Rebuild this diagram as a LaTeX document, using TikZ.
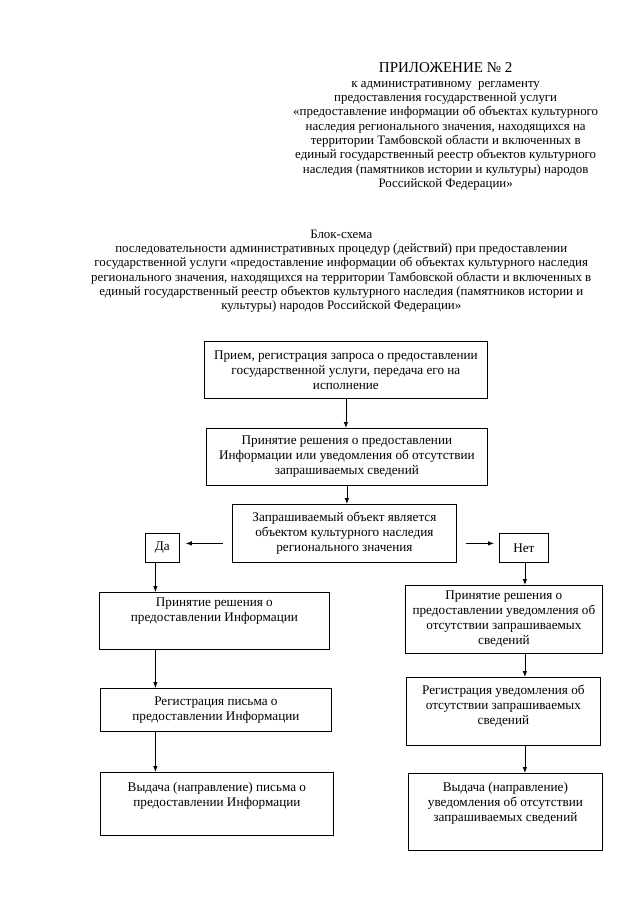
\documentclass[tikz,border=0pt]{standalone}
\usepackage{fontspec}
\setmainfont{Liberation Serif}
\usetikzlibrary{arrows.meta}
\newcommand\bxt[4]{\parbox[c][#2][#3]{#1}{\centering #4\par}}
\begin{document}
\begin{tikzpicture}[x=1pt,y=-1pt, font=\fontsize{12.9}{14.3}\selectfont]
\tikzset{
 box/.style={draw, line width=0.8pt, inner sep=0pt, anchor=north west, font=\fontsize{13.2}{15}\selectfont},
 arr/.style={line width=0.8pt, -{Latex[length=6pt,width=4.5pt]}},
 hdr/.style={align=center, inner sep=0pt}
}
\useasboundingbox (0,0) rectangle (640,905);
\fill[white] (0,0) rectangle (640,905);

\node[hdr, anchor=north west] (sub) at (293,77) {\strut к административному\ \ регламенту\\
предоставления государственной услуги\\
«предоставление информации об объектах культурного\\
наследия регионального значения, находящихся на\\
территории Тамбовской области и включенных в\\
единый государственный реестр объектов культурного\\
наследия (памятников истории и культуры) народов\\
Российской Федерации»};
\node[hdr, anchor=base, font=\fontsize{15}{17}\selectfont] (title) at (sub.north |- 0,72) {ПРИЛОЖЕНИЕ № 2};

\node[hdr, anchor=north west] (bs) at (91,228) {\strut Блок-схема\\
последовательности административных процедур (действий) при предоставлении\\
государственной услуги «предоставление информации об объектах культурного наследия\\
регионального значения, находящихся на территории Тамбовской области и включенных в\\
единый государственный реестр объектов культурного наследия (памятников истории и\\
культуры) народов Российской Федерации»};

\node[box] (b1) at (204,341) {\bxt{283pt}{57pt}{c}{Прием, регистрация запроса о предоставлении\\ государственной услуги, передача его на\\ исполнение}};
\node[box] (b2) at (206,428) {\bxt{281pt}{57pt}{c}{Принятие решения о предоставлении\\ Информации или уведомления об отсутствии\\ запрашиваемых сведений}};
\node[box] (b3) at (232,504) {\bxt{224pt}{58pt}{c}{Запрашиваемый объект является\\ объектом культурного наследия\\ регионального значения}};
\node[box] (da) at (145,533) {\bxt{34pt}{29pt}{c}{Да}};
\node[box] (nt) at (499,533) {\bxt{49pt}{29pt}{c}{Нет}};

\node[box] (l1) at (99,592) {\bxt{230pt}{57pt}{t}{\vspace*{5.3pt}Принятие решения о\\ предоставлении Информации}};
\node[box] (l2) at (100,688) {\bxt{231pt}{43pt}{c}{Регистрация письма о\\ предоставлении Информации}};
\node[box] (l3) at (100,772) {\bxt{233pt}{63pt}{t}{\vspace*{10.3pt}Выдача (направление) письма о\\ предоставлении Информации}};

\node[box] (r1) at (405,585) {\bxt{197pt}{68pt}{c}{Принятие решения о\\ предоставлении уведомления об\\ отсутствии запрашиваемых\\ сведений}};
\node[box] (r2) at (406,677) {\bxt{194pt}{68pt}{t}{\vspace*{7.3pt}Регистрация уведомления об\\ отсутствии запрашиваемых\\ сведений}};
\node[box] (r3) at (408,773) {\bxt{194pt}{77pt}{t}{\vspace*{9.3pt}Выдача (направление)\\ уведомления об отсутствии\\ запрашиваемых сведений}};

\draw[arr] (b1.south) -- (b1.south |- b2.north);
\draw[arr] (b2.south) -- (b2.south |- b3.north);
\coordinate (a1) at ([yshift=-10pt]b3.west);
\coordinate (a2) at ([yshift=-10pt]b3.east);
\draw[arr, shorten <=9pt, shorten >=6pt] (a1) -- (a1 -| da.east);
\draw[arr, shorten <=9pt, shorten >=5pt] (a2) -- (a2 -| nt.west);
\coordinate (lx) at ([xshift=-7pt]da.south);
\draw[arr] (lx) -- (lx |- l1.north);
\draw[arr] (lx |- l1.south) -- (lx |- l2.north);
\draw[arr] (lx |- l2.south) -- (lx |- l3.north);
\coordinate (rx) at ([xshift=1pt]nt.south);
\draw[arr] (rx) -- (rx |- r1.north);
\draw[arr] (rx |- r1.south) -- (rx |- r2.north);
\draw[arr] (rx |- r2.south) -- (rx |- r3.north);
\end{tikzpicture}
\end{document}
